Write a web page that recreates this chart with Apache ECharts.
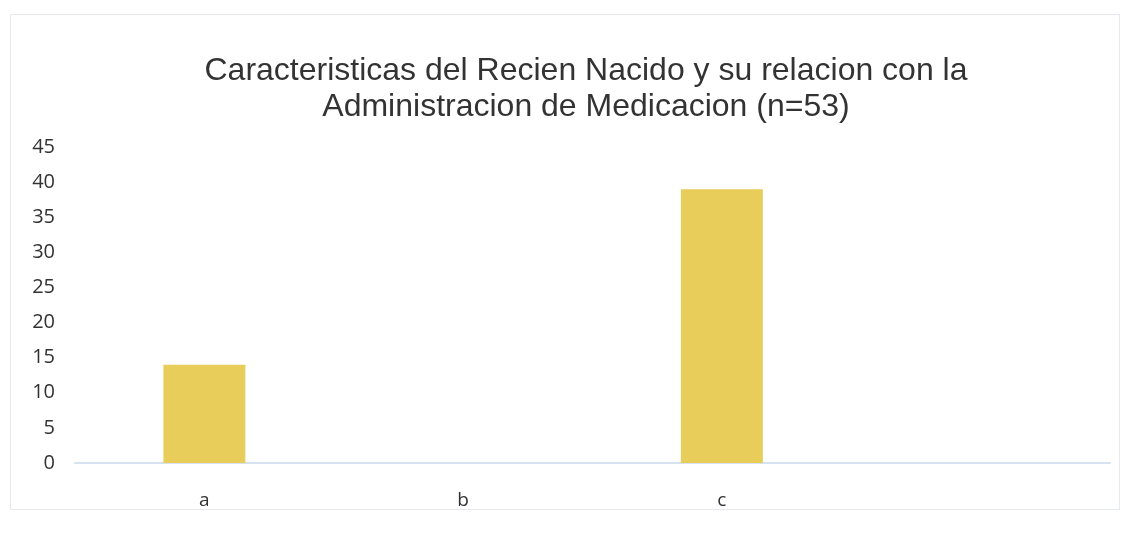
<!DOCTYPE html>
<html>
<head>
<meta charset="utf-8">
<script src="https://cdn.jsdelivr.net/npm/echarts@6/dist/echarts.min.js"></script>
<style>
  html, body { margin: 0; padding: 0; background: #fff; }
  #chart { position: absolute; left: 0; top: 0; width: 1133px; height: 537px; }
  #frame { position: absolute; left: 10px; top: 14px; width: 1110px; height: 496px;
           border: 1px solid #e6eaef; box-sizing: border-box; }
</style>
</head>
<body>
<div id="frame"></div>
<div id="chart"></div>
<script>
const categories = ['a', 'b', 'c', ''];
const values = [14, 0, 39, null];
const yTicks = [0, 5, 10, 15, 20, 25, 30, 35, 40, 45];

const chartDom = document.getElementById('chart');
const myChart = echarts.init(chartDom);

const option = {
  animation: false,
  title: {
    text: 'Caracteristicas del Recien Nacido y su relacion con la\nAdministracion de Medicacion (n=53)',
    left: 581,
    textAlign: 'center',
    top: 48,
    textStyle: {
      fontFamily: 'Liberation Sans',
      fontSize: 32,
      fontWeight: 'normal',
      color: '#333',
      lineHeight: 36
    }
  },
  grid: {
    left: 75,
    right: 23,
    top: 147,
    bottom: 74
  },
  xAxis: {
    type: 'category',
    data: categories,
    axisLine: { lineStyle: { color: '#d6e2f0', width: 2 } },
    axisTick: { show: false },
    axisLabel: {
      margin: 28,
      fontFamily: 'Open Sans',
      fontSize: 19,
      color: '#333'
    }
  },
  yAxis: {
    type: 'value',
    min: yTicks[0],
    max: yTicks[yTicks.length - 1],
    interval: 5,
    axisLine: { show: false },
    axisTick: { show: false },
    splitLine: { show: false },
    axisLabel: {
      margin: 20,
      fontFamily: 'Open Sans',
      fontSize: 20,
      color: '#333'
    }
  },
  series: [{
    type: 'bar',
    data: values,
    barWidth: 82,
    itemStyle: { color: '#e8cd5a' }
  }]
};

myChart.setOption(option);
</script>
</body>
</html>
